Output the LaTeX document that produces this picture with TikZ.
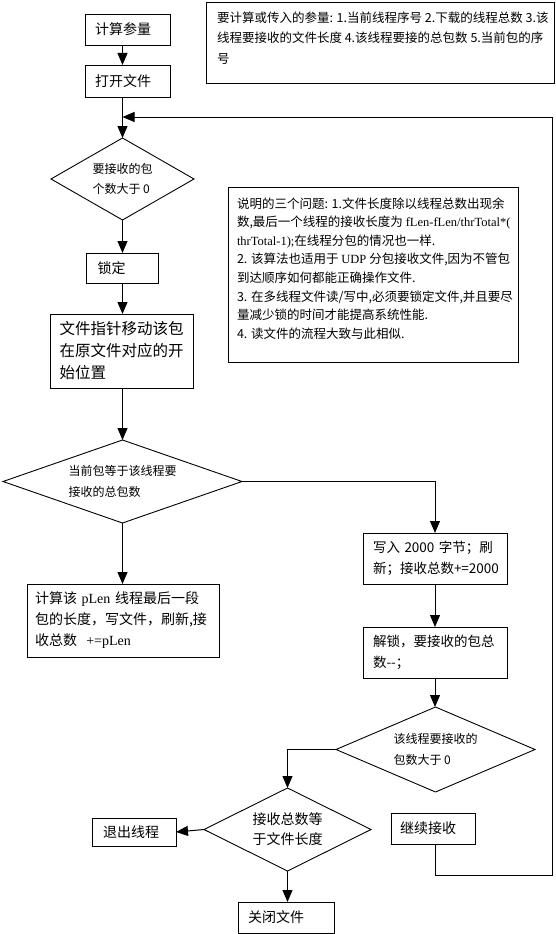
\documentclass[tikz,border=0pt]{standalone}
\usepackage{fontspec}
\setmainfont{Noto Sans CJK SC}
\newfontfamily\lat{Liberation Serif}
\usetikzlibrary{shapes.geometric,arrows.meta}
\begin{document}
\begin{tikzpicture}[x=1pt,y=-1pt,
  every node/.style={inner sep=0pt, outer sep=0pt},
  arr/.style={line width=1pt,-{Triangle[length=12pt,width=10pt]}},
  plain/.style={line width=1pt},
  box/.style={draw, line width=0.9pt, rectangle, align=left, inner xsep=10pt},
  dia/.style={draw, line width=0.9pt, diamond, align=left},
  f14/.style={font=\fontsize{14}{20}\selectfont},
  f12/.style={font=\fontsize{12}{20.5}\selectfont},
]
\useasboundingbox (0,0) rectangle (556,934);

% notes
\node[draw, line width=0.9pt, minimum width=348pt, minimum height=81pt, anchor=north west] (note1) at (206,2) {};
\node[anchor=north west, align=left, font=\fontsize{12.5}{20.5}\selectfont] (note1t) at (217,11.5)
  {要计算或传入的参量: 1.当前线程序号 2.下载的线程总数 3.该\\线程要接收的文件长度 4.该线程要接的总包数 5.当前包的序\\号};

\node[draw, line width=0.9pt, minimum width=290pt, minimum height=175pt, anchor=north west] (note2) at (228,187) {};
\node[anchor=north west, align=left, font=\fontsize{12.5}{18.6}\selectfont] (note2t) at (237,197.5)
  {说明的三个问题: 1.文件长度除以线程总数出现余\\
   数,最后一个线程的接收长度为 {\lat fLen-fLen/thrTotal*(}\\
   {\lat thrTotal-1);}在线程分包的情况也一样.\\
   2. 该算法也适用于 {\lat UDP} 分包接收文件,因为不管包\\
   到达顺序如何都能正确操作文件.\\
   3. 在多线程文件读/写中,必须要锁定文件,并且要尽\\
   量减少锁的时间才能提高系统性能.\\
   4. 读文件的流程大致与此相似.};

% main column
\node[box, f14, text width=65pt, minimum height=31pt] (calc) at (127.5,29.5) {计算参量};
\node[box, f14, text width=65pt, minimum height=32pt] (open) at (127.5,81) {打开文件};
\node[dia, f12, minimum width=143pt, minimum height=82pt, aspect=1.74] (d1) at (122.5,179) {要接收的包\\个数大于 0};
\node[box, f14, inner xsep=11pt, text width=50pt, minimum height=30pt] (lock) at (122.5,268) {锁定};
\node[box, inner xsep=9pt, text width=125pt, minimum height=74pt, font=\fontsize{15.5}{22}\selectfont] (move) at (122,351)
  {文件指针移动该包\\在原文件对应的开\\始位置};
\node[dia, f12, minimum width=239pt, minimum height=83pt, aspect=2.88] (d2) at (122.5,481.5) {当前包等于该线程要\\接收的总包数};
\node[box, inner xsep=8pt, text width=176pt, minimum height=73pt, font=\fontsize{14}{21}\selectfont] (last) at (123,620.5)
  {计算该~{\lat pLen}~线程最后一段\\包的长度，写文件，刷新,接\\收总数~~{\lat +=pLen}};

% right column
\node[box, inner xsep=10pt, text width=124pt, minimum height=51pt, font=\fontsize{13.5}{21}\selectfont] (write) at (435,558.5)
  {写入~2000~字节；刷\\新；接收总数+=2000};
\node[box, inner xsep=10pt, text width=124pt, minimum height=51pt, font=\fontsize{13.5}{21}\selectfont] (unlock) at (435,652.5)
  {解锁，要接收的包总\\数-{}-；};
\node[dia, f12, minimum width=199pt, minimum height=85pt, aspect=2.34] (d3) at (435.5,749.5) {该线程要接收的\\包数大于 0};
\node[dia, f14, minimum width=167pt, minimum height=83pt, aspect=2.01] (d4) at (287.5,829.5) {接收总数等\\于文件长度};
\node[box, f14, inner xsep=10.5pt, text width=62.5pt, minimum height=28pt] (exit) at (134.25,832) {退出线程};
\node[box, f14, inner xsep=10pt, text width=76.5pt, minimum height=31pt] (close) at (286.25,917.5) {关闭文件};
\node[box, f14, inner xsep=9pt, text width=66pt, minimum height=31pt] (cont) at (433,828.5) {继续接收};

\coordinate (loopIn) at (122.5,117);
\coordinate (loopA) at (552,875);
\coordinate (loopB) at (552,117);

% connectors
\draw[arr] (calc.south -| d1.north) -- (d1.north |- open.north);
\draw[arr] (open.south -| d1.north) -- (d1.north);
\draw[arr] (cont.south -| d3.south) |- (loopA) -- (loopB) -- (loopIn);
\draw[arr] (d1.south) -- (lock.north);
\draw[arr] (lock.south) -- (move.north -| lock.south);
\draw[arr] (move.south -| d2.north) -- (d2.north);
\draw[arr] (d2.south) -- (last.north -| d2.south);
\draw[arr] (d2.east) -| (write.north);
\draw[arr] (write.south) -- (unlock.north);
\draw[arr] (unlock.south) -- (d3.north -| unlock.south);
\draw[arr] (d3.west) -- (d4.north |- d3.west) -- (d4.north);
\draw[arr] (d4.west) -- (exit.east);
\draw[arr] (d4.south) -- (close.north -| d4.south);
\end{tikzpicture}
\end{document}
